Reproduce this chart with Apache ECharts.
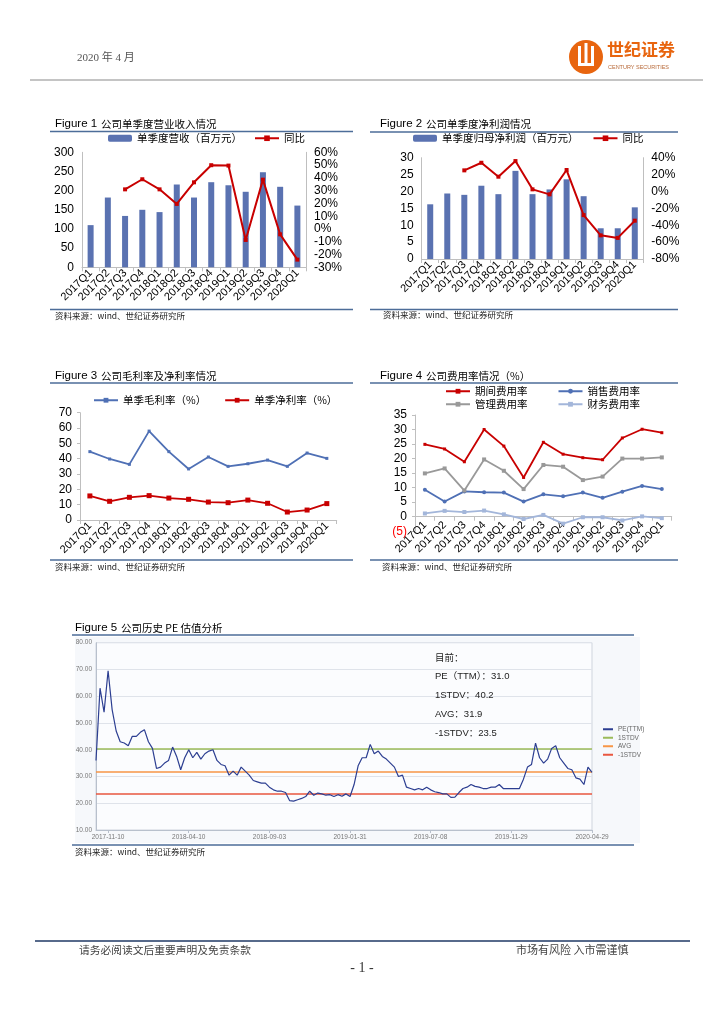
<!DOCTYPE html>
<html><head><meta charset="utf-8">
<script src="https://cdn.jsdelivr.net/npm/echarts/dist/echarts.min.js"></script>
<style>html,body{margin:0;padding:0;background:#fff}#main{width:724px;height:1024px}</style>
</head><body><div id="main"></div>
<script>
const quarters = ['2017Q1','2017Q2','2017Q3','2017Q4','2018Q1','2018Q2','2018Q3','2018Q4','2019Q1','2019Q2','2019Q3','2019Q4','2020Q1'];
const revenue = [110,182,134,150,144,216,182,222,214,197,248,210,161];
const revenueYoY = [null,null,31,38.9,31,19.6,36.5,49.9,49.6,-8.6,38.6,-4.2,-24];
const profit = [16.2,19.4,19,21.7,19.2,26.1,19.2,20.6,23.6,18.6,9.1,9.1,15.3];
const profitYoY = [null,null,25,34,17.5,36,2.5,-3.4,25.4,-28,-52,-55,-34.6];
const grossMargin = [44.6,39.8,36.3,58,44.6,33.3,41.1,35,36.7,39.1,35,43.7,40.2];
const netMargin = [15.7,12.2,14.8,15.9,14.3,13.5,11.7,11.3,13,10.9,5.2,6.5,10.7];
const periodExp = [24.9,23.3,18.9,30,24.3,13.5,25.6,21.5,20.3,19.6,27.1,30.1,28.9];
const salesExp = [9.3,5.2,8.7,8.4,8.3,5.2,7.7,7,8.3,6.5,8.6,10.6,9.5];
const adminExp = [14.9,16.6,9,19.7,15.8,9.5,17.8,17.2,12.6,13.8,20,20,20.4];
const financeExp = [1.1,2,1.6,2.1,0.8,-0.8,0.6,-2.4,-0.2,-0.2,-1.3,0.1,-0.5];
const peTTM = [36,63,54,69.5,55,47,43,42.5,41.5,45,
 45,46.5,47.5,43,40.5,33,33.5,35,36,41,
 37.5,32.5,37,40,37,39,36.5,38.5,39.5,40,
 36,34.5,34,30.5,32,30.5,33.5,32,30.5,28.5,
 28,27.5,27.5,26,25,24.5,24.5,24,21,20.8,
 21.3,21.8,22.5,24.5,23,23.8,23.5,23,23.2,22.5,
 23.2,22.6,23.5,22.5,27,34,37,37,42,38.5,
 39.5,37.5,36.5,35,33.5,30,30.5,26,25.5,25,
 25.5,25,26,25,24.3,24,23.5,23.5,22.2,22.3,
 24,25.5,26,27,26.3,26,25.5,25.5,26,26,
 27,25.5,25.5,25.5,25.5,25.5,29,33.5,34.5,42.5,
 37,35,36.5,40.5,41.5,37,35,33,32.5,29.5,
 29,27,33.5,31.5];
const peStdUp = 40.2, peAvg = 31.9, peStdDown = 23.5, peCurrent = 31.0;
const peTickIndex = [3,23,43,63,83,103,123];
const peTickLabels = ['2017-11-10','2018-04-10','2018-09-03','2019-01-31','2019-07-08','2019-11-29','2020-04-29'];

const FONT = "'Liberation Sans','Noto Sans CJK SC',sans-serif";
const CJK = "'Noto Sans CJK SC','Liberation Sans',sans-serif";
const BAR = '#5a72b1', RED = '#c80000', BLUE = '#4f70b5', GRAY = '#999999', LBLUE = '#a3b6da';
const TITLE_LINE = '#4d6d99';

function T(x, y, text, size, color, extra) {
  return {type:'text', silent:true, z:10, style:Object.assign({x:x, y:y, text:text, fill:color||'#000', font: size + 'px ' + FONT, textVerticalAlign:'middle', textAlign:'left'}, extra||{})};
}
function L(x1, y1, x2, y2, color, w) {
  return {type:'line', silent:true, z:10, shape:{x1:x1,y1:y1,x2:x2,y2:y2}, style:{stroke:color, lineWidth:w||1}};
}
const graphics = [
  {type:'rect', silent:true, z:-5, shape:{x:75,y:637,width:565,height:206}, style:{fill:'#f6f8fb'}},
  T(77, 58, '2020 年 4 月', 11, '#555', {font:"11px 'Liberation Serif','Noto Sans CJK SC',serif"}),
  L(30, 80, 703, 80, '#8a8a8a', 1.2),
  {type:'circle', silent:true, z:10, shape:{cx:586, cy:57, r:17}, style:{fill:'#e8650f'}},
  {type:'rect', silent:true, z:11, shape:{x:578,y:46,width:3,height:20}, style:{fill:'#fff'}},
  {type:'rect', silent:true, z:11, shape:{x:584.5,y:43,width:3,height:23}, style:{fill:'#fff'}},
  {type:'rect', silent:true, z:11, shape:{x:591,y:46,width:3,height:20}, style:{fill:'#fff'}},
  {type:'rect', silent:true, z:11, shape:{x:578,y:63,width:16,height:3}, style:{fill:'#fff'}},
  T(607, 50, '世纪证券', 17, '#e8650f', {font:"bold 17px 'Noto Sans CJK SC',sans-serif"}),
  T(608, 67, 'CENTURY SECURITIES', 5.5, '#b86a3a'),
  // Figure 1
  T(55, 124, 'Figure 1', 11.5, '#000'),
  T(101, 124, '公司单季度营业收入情况', 10.5, '#000', {font:"10.5px " + CJK}),
  L(50, 131.5, 353, 131.5, TITLE_LINE, 1.5),
  L(50, 309.5, 353, 309.5, TITLE_LINE, 1.5),
  T(55, 316, '资料来源：wind、世纪证券研究所', 8.5, '#222', {font:"8.5px " + CJK}),
  // Figure 2
  T(380, 124, 'Figure 2', 11.5, '#000'),
  T(426, 124, '公司单季度净利润情况', 10.5, '#000', {font:"10.5px " + CJK}),
  L(370, 132, 678, 132, TITLE_LINE, 1.5),
  L(370, 309.5, 678, 309.5, TITLE_LINE, 1.5),
  T(383, 315, '资料来源：wind、世纪证券研究所', 8.5, '#222', {font:"8.5px " + CJK}),
  // Figure 3
  T(55, 376, 'Figure 3', 11.5, '#000'),
  T(101, 376, '公司毛利率及净利率情况', 10.5, '#000', {font:"10.5px " + CJK}),
  L(50, 383, 353, 383, TITLE_LINE, 1.5),
  L(50, 560, 353, 560, TITLE_LINE, 1.5),
  T(55, 567, '资料来源：wind、世纪证券研究所', 8.5, '#222', {font:"8.5px " + CJK}),
  // Figure 4
  T(380, 376, 'Figure 4', 11.5, '#000'),
  T(426, 376, '公司费用率情况（%）', 10.5, '#000', {font:"10.5px " + CJK}),
  L(370, 383, 678, 383, TITLE_LINE, 1.5),
  L(370, 560, 678, 560, TITLE_LINE, 1.5),
  T(382, 567, '资料来源：wind、世纪证券研究所', 8.5, '#222', {font:"8.5px " + CJK}),
  // Figure 5
  T(75, 628, 'Figure 5', 11.5, '#000'),
  T(121, 628, '公司历史 PE 估值分析', 10.5, '#000', {font:"10.5px " + CJK}),
  L(72, 635, 634, 635, TITLE_LINE, 1.5),
  L(72, 845, 634, 845, TITLE_LINE, 1.5),
  T(75, 852, '资料来源：wind、世纪证券研究所', 8.5, '#222', {font:"8.5px " + CJK}),
  T(435, 657, '目前：', 9.5, '#222', {font:"9.5px " + CJK}),
  T(435, 676, 'PE（TTM）：' + peCurrent.toFixed(1), 9.5, '#222'),
  T(435, 695, '1STDV：' + peStdUp.toFixed(1), 9.5, '#222'),
  T(435, 714, 'AVG：' + peAvg.toFixed(1), 9.5, '#222'),
  T(435, 733, '-1STDV：' + peStdDown.toFixed(1), 9.5, '#222'),
  // footer
  L(35, 941, 690, 941, '#1f3864', 1.5),
  T(79, 950, '请务必阅读文后重要声明及免责条款', 10.75, '#444', {font:"10.75px " + CJK}),
  T(516, 950, '市场有风险 入市需谨慎', 11, '#444', {font:"11px " + CJK}),
  T(362, 968, '- 1 -', 14, '#333', {textAlign:'center', font:"14px 'Liberation Serif',serif"})
];

const axLine = {show:true, lineStyle:{color:'#bfbfbf', width:1}};
function catAxis(grid, onZero, margin) {
  return {type:'category', gridIndex:grid, data:quarters, boundaryGap:true,
    axisLine:{show:true, onZero:!!onZero, lineStyle:{color:'#bfbfbf'}},
    axisTick:{show:true, length:4, lineStyle:{color:'#bfbfbf'}},
    axisLabel:{interval:0, rotate:45, fontSize:11, color:'#000', margin:(margin === undefined ? 4 : margin), fontFamily:FONT},
    splitLine:{show:false}};
}
function valAxis(grid, min, max, interval, fmt, pos, ticks) {
  return {type:'value', gridIndex:grid, min:min, max:max, interval:interval, position:pos||'left',
    axisLine:axLine, axisTick:{show:!!ticks, length:3, lineStyle:{color:'#bfbfbf'}},
    axisLabel:{fontSize:12, color:'#000', margin:8, fontFamily:FONT, formatter:fmt},
    splitLine:{show:false}};
}

const legendText = {fontSize:10.5, color:'#000', fontFamily:CJK};
const option = {
  animation:false,
  textStyle:{fontFamily:FONT},
  graphic:{elements:graphics},
  grid:[
    {left:82, top:152.3, width:224, height:115},
    {left:421.7, top:157.7, width:221.6, height:101.3},
    {left:80, top:412.7, width:256.7, height:107.3},
    {left:415, top:415, width:256.7, height:116.2},
    {left:96, top:642.7, width:496, height:187.3, show:true, borderColor:'#cfd5de', borderWidth:1, backgroundColor:'#fbfcfe'}
  ],
  legend:[
    {left:108, top:133, padding:0, itemGap:12, itemWidth:24, itemHeight:7, textStyle:legendText, data:['单季度营收（百万元）', '同比']},
    {left:413, top:133, padding:0, itemGap:14, itemWidth:24, itemHeight:7, textStyle:legendText, data:['单季度归母净利润（百万元）', '同比']},
    {left:93, top:395, padding:0, itemGap:18, itemWidth:24, itemHeight:6, textStyle:legendText, data:['单季毛利率（%）', '单季净利率（%）']},
    {left:445, top:386, padding:0, itemGap:30, itemWidth:24, itemHeight:6, textStyle:legendText, data:['期间费用率', '销售费用率']},
    {left:445, top:399, padding:0, itemGap:30, itemWidth:24, itemHeight:6, textStyle:legendText, data:['管理费用率', '财务费用率']},
    {left:603, top:726, orient:'vertical', padding:0, itemGap:2, itemWidth:10, itemHeight:2, icon:'rect',
      textStyle:{fontSize:6.5, color:'#666', fontFamily:FONT}, data:['PE(TTM)', '1STDV', 'AVG', '-1STDV']}
  ],
  xAxis:[
    catAxis(0), catAxis(1), catAxis(2), catAxis(3, true, -8),
    {type:'category', gridIndex:4, data:peTTM.map((v, i) => i), boundaryGap:false,
      axisLine:{show:true, lineStyle:{color:'#b8c0cc'}},
      axisTick:{show:true, length:3, interval:(i) => peTickIndex.indexOf(i) >= 0, lineStyle:{color:'#b8c0cc'}},
      axisLabel:{interval:(i) => peTickIndex.indexOf(i) >= 0, fontSize:6.5, color:'#777', margin:4,
        formatter:(v) => { const k = peTickIndex.indexOf(Number(v)); return k >= 0 ? peTickLabels[k] : ''; }},
      splitLine:{show:false}}
  ],
  yAxis:[
    valAxis(0, 0, 300, 50),
    valAxis(0, -30, 60, 10, '{value}%', 'right'),
    valAxis(1, 0, 30, 5),
    valAxis(1, -80, 40, 20, '{value}%', 'right'),
    valAxis(2, 0, 70, 10, null, 'left', true),
    valAxis(3, -5, 35, 5, (v) => v < 0 ? '(' + (-v) + ')' : String(v), 'left', true),
    {type:'value', gridIndex:4, min:10, max:80, interval:10,
      axisLine:{show:true, lineStyle:{color:'#b8c0cc'}}, axisTick:{show:false},
      axisLabel:{fontSize:6.5, color:'#777', margin:4, formatter:(v) => v.toFixed(2)},
      splitLine:{show:true, lineStyle:{color:'#dfe3ea', width:1}}}
  ],
  series:[
    {name:'单季度营收（百万元）', type:'bar', xAxisIndex:0, yAxisIndex:0, data:revenue, barWidth:6, itemStyle:{color:BAR}},
    {name:'同比', type:'line', xAxisIndex:0, yAxisIndex:1, data:revenueYoY, symbol:'rect', symbolSize:4, lineStyle:{color:RED, width:2}, itemStyle:{color:RED}},
    {name:'单季度归母净利润（百万元）', type:'bar', xAxisIndex:1, yAxisIndex:2, data:profit, barWidth:6, itemStyle:{color:BAR}},
    {name:'同比', type:'line', xAxisIndex:1, yAxisIndex:3, data:profitYoY, symbol:'rect', symbolSize:4, lineStyle:{color:RED, width:2}, itemStyle:{color:RED}},
    {name:'单季毛利率（%）', type:'line', xAxisIndex:2, yAxisIndex:4, data:grossMargin, symbol:'rect', symbolSize:3, lineStyle:{color:BLUE, width:1.8}, itemStyle:{color:BLUE}},
    {name:'单季净利率（%）', type:'line', xAxisIndex:2, yAxisIndex:4, data:netMargin, symbol:'rect', symbolSize:5, lineStyle:{color:RED, width:1.8}, itemStyle:{color:RED}},
    {name:'期间费用率', type:'line', xAxisIndex:3, yAxisIndex:5, data:periodExp, symbol:'rect', symbolSize:3, lineStyle:{color:RED, width:1.8}, itemStyle:{color:RED}},
    {name:'销售费用率', type:'line', xAxisIndex:3, yAxisIndex:5, data:salesExp, symbol:'circle', symbolSize:4, lineStyle:{color:BLUE, width:1.8}, itemStyle:{color:BLUE}},
    {name:'管理费用率', type:'line', xAxisIndex:3, yAxisIndex:5, data:adminExp, symbol:'rect', symbolSize:4, lineStyle:{color:GRAY, width:1.8}, itemStyle:{color:GRAY}},
    {name:'财务费用率', type:'line', xAxisIndex:3, yAxisIndex:5, data:financeExp, symbol:'rect', symbolSize:4, lineStyle:{color:LBLUE, width:1.8}, itemStyle:{color:LBLUE}},
    {name:'PE(TTM)', type:'line', xAxisIndex:4, yAxisIndex:6, data:peTTM, symbol:'none', z:5, lineStyle:{color:'#2c3e91', width:1.2}, itemStyle:{color:'#2c3e91'}},
    {name:'1STDV', type:'line', xAxisIndex:4, yAxisIndex:6, data:[], symbol:'none', itemStyle:{color:'#9bbb59'}, lineStyle:{color:'#9bbb59'},
      markLine:{silent:true, symbol:'none', label:{show:false}, lineStyle:{color:'#9bbb59', type:'solid', width:1.5}, data:[{yAxis:peStdUp}]}},
    {name:'AVG', type:'line', xAxisIndex:4, yAxisIndex:6, data:[], symbol:'none', itemStyle:{color:'#f79646'}, lineStyle:{color:'#f79646'},
      markLine:{silent:true, symbol:'none', label:{show:false}, lineStyle:{color:'#f79646', type:'solid', width:1.5}, data:[{yAxis:peAvg}]}},
    {name:'-1STDV', type:'line', xAxisIndex:4, yAxisIndex:6, data:[], symbol:'none', itemStyle:{color:'#e9573f'}, lineStyle:{color:'#e9573f'},
      markLine:{silent:true, symbol:'none', label:{show:false}, lineStyle:{color:'#e9573f', type:'solid', width:1.5}, data:[{yAxis:peStdDown}]}}
  ]
};
option.yAxis[5].axisLabel.color = (v) => Number(v) < 0 ? '#ff0000' : '#000';
const chart = echarts.init(document.getElementById('main'), null, {renderer:'canvas'});
chart.setOption(option);
</script></body></html>
